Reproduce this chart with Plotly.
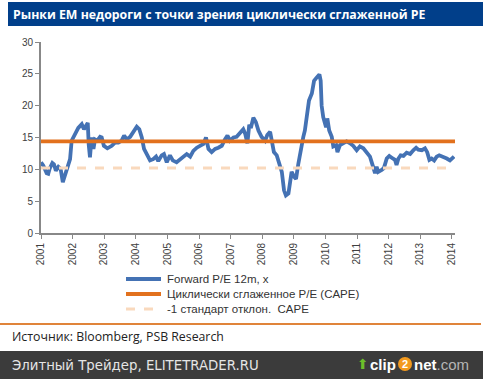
import plotly.graph_objects as go

# ---- data ----
fpe_years = [
    2001.00, 2001.07, 2001.18, 2001.23, 2001.28, 2001.36, 2001.41, 2001.47, 2001.55, 2001.62,
    2001.69, 2001.74, 2001.81, 2001.92, 2001.97, 2002.02, 2002.11, 2002.18, 2002.29, 2002.36,
    2002.42, 2002.48, 2002.51, 2002.55, 2002.60, 2002.66, 2002.71, 2002.78, 2002.87, 2002.92,
    2002.99, 2003.10, 2003.24, 2003.34, 2003.45, 2003.55, 2003.63, 2003.71, 2003.82, 2003.92,
    2004.03, 2004.11, 2004.19, 2004.26, 2004.34, 2004.45, 2004.55, 2004.64, 2004.71, 2004.82,
    2004.89, 2004.98, 2005.08, 2005.17, 2005.29, 2005.40, 2005.50, 2005.61, 2005.72, 2005.82,
    2005.93, 2006.03, 2006.14, 2006.22, 2006.30, 2006.40, 2006.51, 2006.61, 2006.72, 2006.82,
    2006.90, 2006.98, 2007.09, 2007.19, 2007.30, 2007.40, 2007.46, 2007.53, 2007.59, 2007.64,
    2007.72, 2007.80, 2007.88, 2007.98, 2008.09, 2008.16, 2008.25, 2008.30, 2008.37, 2008.46,
    2008.54, 2008.62, 2008.69, 2008.75, 2008.83, 2008.88, 2008.93, 2009.01, 2009.07, 2009.14,
    2009.22, 2009.30, 2009.35, 2009.41, 2009.48, 2009.57, 2009.64, 2009.72, 2009.81, 2009.85,
    2009.88, 2009.93, 2010.02, 2010.06, 2010.12, 2010.20, 2010.25, 2010.34, 2010.38, 2010.46,
    2010.57, 2010.67, 2010.78, 2010.88, 2010.99, 2011.09, 2011.20, 2011.31, 2011.41, 2011.49,
    2011.57, 2011.62, 2011.67, 2011.78, 2011.85, 2011.94, 2012.02, 2012.13, 2012.20, 2012.25,
    2012.31, 2012.38, 2012.47, 2012.57, 2012.68, 2012.78, 2012.87, 2012.94, 2013.05, 2013.15,
    2013.22, 2013.29, 2013.36, 2013.44, 2013.52, 2013.60, 2013.73, 2013.84, 2013.94, 2014.03,
    2014.07,
]
fpe_values = [
    11.1, 10.6, 9.4, 9.3, 10.2, 11.0, 10.8, 9.8, 10.4, 10.1,
    8.0, 8.8, 10.3, 11.6, 14.5, 15.0, 15.6, 16.5, 17.1, 16.3,
    16.8, 17.3, 13.9, 11.9, 15.0, 13.2, 14.7, 14.5, 15.1, 15.0,
    13.7, 13.3, 13.7, 14.2, 14.2, 14.5, 15.3, 14.7, 15.1, 16.0,
    16.7, 16.3, 15.0, 13.2, 12.4, 11.4, 11.6, 12.0, 11.3, 12.2,
    12.4, 11.1, 12.2, 11.4, 11.1, 11.6, 11.9, 12.4, 12.0, 12.9,
    13.4, 13.7, 14.0, 15.0, 13.2, 12.7, 13.2, 13.4, 13.7, 14.7,
    15.3, 14.5, 15.0, 15.1, 15.8, 16.3, 15.6, 14.1, 17.0, 16.5,
    18.1, 17.4, 16.1, 15.1, 14.5, 15.4, 15.9, 14.5, 12.7, 12.2,
    11.1, 9.6, 6.7, 5.9, 6.2, 8.2, 9.6, 8.8, 8.5, 10.8,
    13.2, 15.1, 16.1, 18.7, 20.8, 21.9, 23.9, 24.4, 24.9, 23.9,
    20.0, 18.2, 16.6, 18.0, 16.1, 15.1, 13.6, 13.8, 12.7, 13.8,
    14.1, 14.4, 14.1, 13.7, 13.0, 13.6, 13.3, 12.5, 12.0, 10.7,
    9.4, 10.4, 9.6, 9.9, 10.2, 11.7, 12.1, 11.7, 11.5, 10.7,
    11.7, 12.2, 12.1, 12.6, 12.4, 13.0, 13.4, 13.1, 13.0, 13.3,
    12.7, 11.5, 11.7, 11.4, 12.0, 12.2, 12.0, 11.7, 11.4, 11.9,
    12.0,
]
cape_years = [2001.0, 2014.1]
cape_values = [14.4, 14.4]
std_years = [2001.0, 2014.0]
std_values = [10.2, 10.2]
year_ticks = list(range(2001, 2015))
y_ticks = [0, 5, 10, 15, 20, 25, 30]

series_names = ["Forward P/E 12m, x",
                "Циклически сглаженное P/E (CAPE)",
                "-1 стандарт отклон.  CAPE"]
title_text = "Рынки ЕМ недороги с точки зрения циклически сглаженной РЕ"
source_text = "Источник: Bloomberg, PSB Research"
footer_text = "Элитный Трейдер, ELITETRADER.RU"

W, H = 483, 379
L, R, T, B = 41, 28, 42, 146

blue = "#4472b4"
orange = "#e2711d"
peach = "#f9d9bd"

fig = go.Figure()
fig.add_trace(go.Scatter(x=fpe_years, y=fpe_values, mode="lines",
                         name=series_names[0], line=dict(color=blue, width=3.8)))
fig.add_trace(go.Scatter(x=cape_years, y=cape_values, mode="lines",
                         name=series_names[1], line=dict(color=orange, width=3.8)))
fig.add_trace(go.Scatter(x=std_years, y=std_values, mode="lines",
                         name=series_names[2], line=dict(color=peach, width=3, dash="dash")))

axis_col = "#888888"
fig.update_layout(
    width=W, height=H,
    margin=dict(l=L, r=R, t=T, b=B, pad=0),
    paper_bgcolor="white", plot_bgcolor="white",
    font=dict(family="Liberation Sans, Arial, sans-serif", size=10, color="#404040"),
    showlegend=False,
    xaxis=dict(range=[2001, 2014.1], tickmode="array", tickvals=year_ticks,
               ticktext=[str(v) for v in year_ticks], tickangle=-90,
               showgrid=False, zeroline=False, showline=True, linecolor=axis_col,
               linewidth=2, ticks="outside", ticklen=4, tickcolor=axis_col,
               tickfont=dict(size=10, color="#404040")),
    yaxis=dict(range=[0, 30], tickmode="array", tickvals=y_ticks,
               showgrid=False, zeroline=False, showline=True, linecolor=axis_col,
               linewidth=2, ticks="outside", ticklen=4, tickcolor=axis_col,
               tickfont=dict(size=10, color="#404040")),
)

# helpers: pixel position -> paper coords (paper is relative to the plot area)
def fx(p):
    return (p - L) / (W - L - R)

def fy(p):
    return (H - B - p) / (H - T - B)

shapes = [
    dict(type="rect", xref="paper", yref="paper", layer="below",
         x0=fx(8), x1=fx(483), y0=fy(26), y1=fy(2),
         fillcolor="#013f8a", line=dict(width=0)),
    dict(type="line", xref="paper", yref="paper",
         x0=fx(0), x1=fx(481), y0=fy(324), y1=fy(324),
         line=dict(color="#e0843a", width=2)),
    dict(type="rect", xref="paper", yref="paper",
         x0=fx(0), x1=fx(483), y0=fy(379), y1=fy(351),
         fillcolor="#3b3b3b", line=dict(width=0)),
    dict(type="circle", xref="paper", yref="paper",
         x0=fx(398), x1=fx(412), y0=fy(371), y1=fy(357),
         fillcolor="#f39a1e", line=dict(width=0)),
]

# legend (drawn manually to match the compact row spacing)
leg_rows = [279, 294, 309]
leg_styles = [dict(color=blue, width=3.8), dict(color=orange, width=3.8),
              dict(color=peach, width=3, dash="dash")]
ann = []
for name, ypix, st in zip(series_names, leg_rows, leg_styles):
    shapes.append(dict(type="line", xref="paper", yref="paper",
                       x0=fx(126), x1=fx(161), y0=fy(ypix), y1=fy(ypix), line=st))
    ann.append(dict(text=name, x=fx(165), y=fy(ypix), xref="paper", yref="paper",
                    xanchor="left", yanchor="middle", showarrow=False,
                    font=dict(family="Liberation Sans, Arial, sans-serif", size=11.5,
                              color="#333333")))
fig.update_layout(shapes=shapes)

ann += [
    dict(text="<b>" + title_text + "</b>", x=fx(11), y=fy(14), xref="paper", yref="paper",
         xanchor="left", yanchor="middle", showarrow=False,
         font=dict(family="Open Sans, sans-serif", size=12.3, color="white")),
    dict(text=source_text, x=fx(10), y=fy(336), xref="paper", yref="paper",
         xanchor="left", yanchor="middle", showarrow=False,
         font=dict(family="Open Sans, sans-serif", size=12.3, color="#222222")),
    dict(text=footer_text, x=fx(10), y=fy(365), xref="paper", yref="paper",
         xanchor="left", yanchor="middle", showarrow=False,
         font=dict(family="DejaVu Sans, sans-serif", size=13.3, color="#e6e6e6")),
    dict(text="<b>clip</b>", x=fx(398), y=fy(364), xref="paper", yref="paper",
         xanchor="right", yanchor="middle", showarrow=False,
         font=dict(family="Liberation Sans, Arial, sans-serif", size=15, color="white")),
    dict(text="<b>2</b>", x=fx(405), y=fy(364), xref="paper", yref="paper",
         xanchor="center", yanchor="middle", showarrow=False,
         font=dict(family="Liberation Sans, Arial, sans-serif", size=11, color="white")),
    dict(text="<b>net</b><span style='color:#b5b5b5'>.com</span>", x=fx(412), y=fy(364),
         xref="paper", yref="paper", xanchor="left", yanchor="middle", showarrow=False,
         font=dict(family="Liberation Sans, Arial, sans-serif", size=15, color="white")),
    dict(text="⬆", x=fx(363), y=fy(364), xref="paper", yref="paper",
         xanchor="center", yanchor="middle", showarrow=False,
         font=dict(family="DejaVu Sans, sans-serif", size=14, color="#6cbf2a")),
]
fig.update_layout(annotations=ann)

fig.write_html("out.html", config={"displayModeBar": False},
               post_script="document.body.style.margin='0';document.body.style.padding='0';")
